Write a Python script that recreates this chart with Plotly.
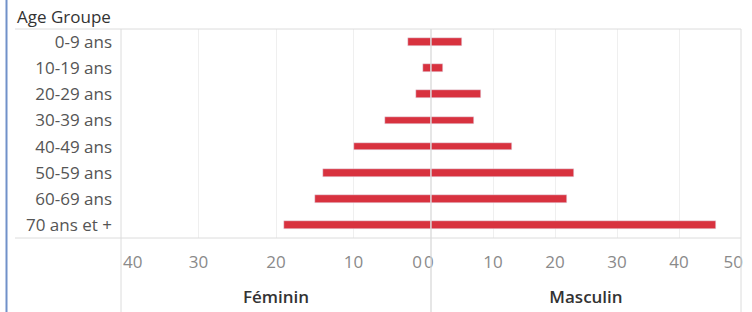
import plotly.graph_objects as go

age_groups = ["0-9 ans", "10-19 ans", "20-29 ans", "30-39 ans",
              "40-49 ans", "50-59 ans", "60-69 ans", "70 ans et +"]
feminin = [3, 1, 2, 6, 10, 14, 15, 19]
masculin = [5, 2, 8, 7, 13, 23, 22, 46]
fem_ticks_mid = [30, 20, 10]
masc_ticks_mid = [10, 20, 30, 40]

W, H = 752, 312
def px(x): return x / W
def py(y): return 1 - y / H

BAR = "#d8323f"
FONT = "Open Sans"
TICKC = "#8a8a8a"
x_left, x_mid, x_right = 121, 431, 741
y_top, y_bot = 29, 238

fig = go.Figure()
fig.add_trace(go.Bar(x=feminin, y=age_groups, orientation="h", marker_color=BAR,
                     width=0.3, xaxis="x", yaxis="y", showlegend=False))
fig.add_trace(go.Bar(x=masculin, y=age_groups, orientation="h", marker_color=BAR,
                     width=0.3, xaxis="x2", yaxis="y", showlegend=False))
# invisible traces to activate edge-label axes
for ax in ["x3", "x4", "x5", "x6"]:
    fig.add_trace(go.Scatter(x=[None], y=[None], xaxis=ax, yaxis="y",
                             showlegend=False, hoverinfo="skip"))

tickfont = dict(family=FONT, size=17, color=TICKC)
common = dict(showgrid=True, gridcolor="#efefef", gridwidth=1, zeroline=False,
              showline=False, ticks="", tickfont=tickfont, anchor="y",
              ticklabelstandoff=12, fixedrange=True, automargin=False)
edge = {**common, "showgrid": False}
dom_l = [px(x_left), px(x_mid)]
dom_r = [px(x_mid), px(x_right)]
title_font = dict(family=FONT, size=17, color="#333", weight=600)
fig.update_layout(
    width=W, height=H, margin=dict(l=0, r=0, t=0, b=0, autoexpand=False),
    plot_bgcolor="white", paper_bgcolor="white", bargap=0,
    xaxis=dict(domain=dom_l, range=[40, 0], tickvals=fem_ticks_mid,
               title=dict(text="Féminin", standoff=19, font=title_font),
               **common),
    xaxis2=dict(domain=dom_r, range=[0, 50], tickvals=masc_ticks_mid,
                title=dict(text="Masculin", standoff=19, font=title_font),
                **common),
    xaxis3=dict(overlaying="x", range=[40, 0], tickvals=[40],
                ticklabelposition="outside right", ticklabelshift=-2, **edge),
    xaxis4=dict(overlaying="x", range=[40, 0], tickvals=[0],
                ticklabelposition="outside left", ticklabelshift=9, **edge),
    xaxis5=dict(overlaying="x2", range=[0, 50], tickvals=[0],
                ticklabelposition="outside right", ticklabelshift=-7, **edge),
    xaxis6=dict(overlaying="x2", range=[0, 50], tickvals=[50],
                ticklabelposition="outside left", ticklabelshift=2, **edge),
    yaxis=dict(domain=[py(y_bot), py(y_top)], anchor="x", type="category",
               categoryorder="array", categoryarray=age_groups,
               range=[len(age_groups) - 0.5, -0.5], showgrid=False,
               zeroline=False, showline=False, ticks="", automargin=False,
               ticklabelstandoff=8, fixedrange=True,
               tickfont=dict(family=FONT, size=17, color="#555")),
)

line_c = "#dcdcdc"
shapes = [
    dict(type="line", xref="paper", yref="paper", x0=px(15), x1=px(x_right),
         y0=py(y_top), y1=py(y_top), line=dict(color=line_c, width=1)),
    dict(type="line", xref="paper", yref="paper", x0=px(15), x1=px(x_right),
         y0=py(y_bot), y1=py(y_bot), line=dict(color=line_c, width=1)),
    dict(type="line", xref="paper", yref="paper", x0=px(x_left), x1=px(x_left),
         y0=py(y_top), y1=0, line=dict(color=line_c, width=1)),
    dict(type="line", xref="paper", yref="paper", x0=px(x_right), x1=px(x_right),
         y0=py(y_top), y1=0, line=dict(color=line_c, width=1)),
    dict(type="line", xref="paper", yref="paper", x0=px(x_mid), x1=px(x_mid),
         y0=py(y_top), y1=0, layer="above",
         line=dict(color="rgba(215,215,215,0.85)", width=1.5)),
    dict(type="line", xref="paper", yref="paper", x0=px(6.5), x1=px(6.5),
         y0=0, y1=1, line=dict(color="#7191c9", width=2)),
]
fig.update_layout(shapes=shapes)
fig.add_annotation(text="Age Groupe", xref="paper", yref="paper",
                   x=px(15), y=py(16), xanchor="left", yanchor="middle",
                   showarrow=False,
                   font=dict(family=FONT, size=17, color="#333", weight=500))

fig.write_html("out.html", config={"displayModeBar": False},
               post_script="document.body.style.margin='0';document.body.style.padding='0';")
